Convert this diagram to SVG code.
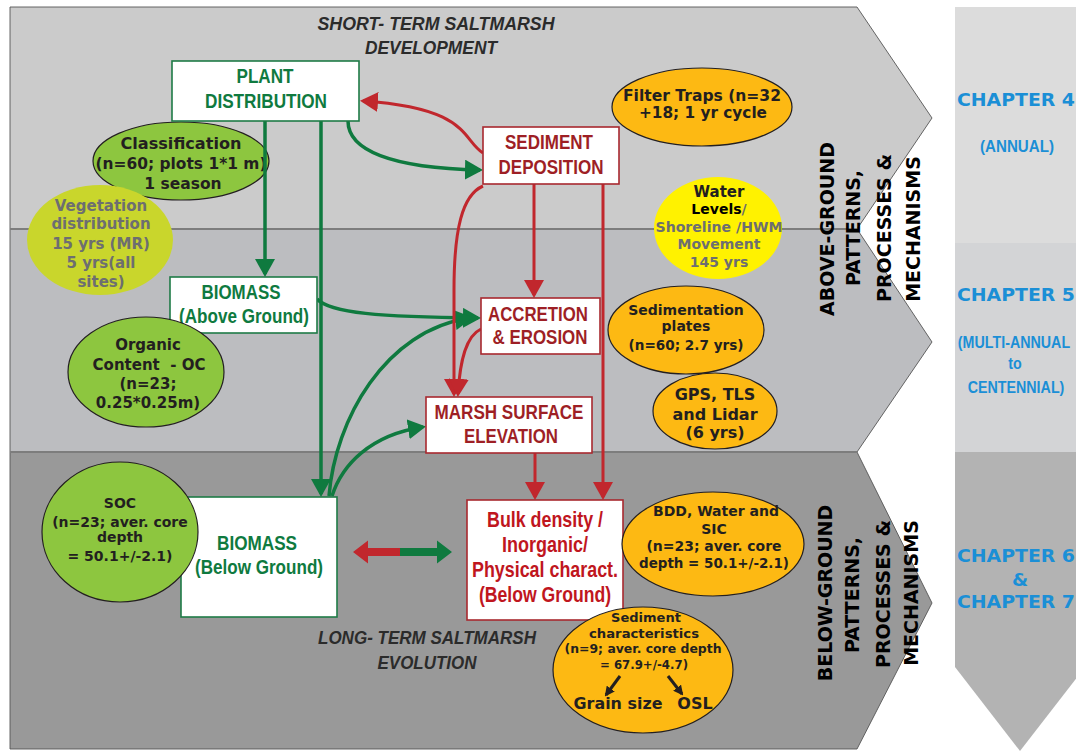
<svg xmlns="http://www.w3.org/2000/svg" width="1076" height="751" viewBox="0 0 1076 751">
<style>
.edge{fill:none;stroke:#555;stroke-width:0.9}
.sep{stroke:#7d7d7d;stroke-width:2}
.gbox{fill:#fff;stroke:#1e7b46;stroke-width:1.6}
.rbox{fill:#fff;stroke:#a8292f;stroke-width:1.6}
.gt{font-family:"Liberation Sans",Arial,sans-serif;font-weight:bold;font-size:21px;fill:#0f7a3f;text-anchor:middle}
.rt{font-family:"Liberation Sans",Arial,sans-serif;font-weight:bold;font-size:21px;fill:#9e1f25;text-anchor:middle}
.bt{font-family:"Liberation Sans",Arial,sans-serif;font-weight:bold;font-size:22px;fill:#c0161e;text-anchor:middle}
.el{stroke:#231f20;stroke-width:1.2}
.et{font-family:"DejaVu Sans",sans-serif;font-weight:bold;fill:#231f20;text-anchor:middle}
.gray{fill:#6d6e71}
.gl{fill:none;stroke:#0f7a3f;stroke-width:3.5}
.rl{fill:none;stroke:#c1272d;stroke-width:3}
.side{font-family:"DejaVu Sans",sans-serif;font-weight:bold;font-size:19px;fill:#000;text-anchor:middle}
.ch{font-family:"DejaVu Sans",sans-serif;font-weight:bold;font-size:18.5px;fill:#1b8fd6}
.chn{font-family:"Liberation Sans",Arial,sans-serif;font-weight:bold;font-size:17px;fill:#1b8fd6;text-anchor:middle}
.cap{font-family:"Liberation Sans",Arial,sans-serif;font-style:italic;font-weight:bold;font-size:18px;fill:#2b2b2b;text-anchor:middle}
</style>
<defs>
<marker id="mg" viewBox="0 0 18 20" refX="15" refY="10" markerWidth="18" markerHeight="20" markerUnits="userSpaceOnUse" orient="auto"><path d="M0,0 L18,10 L0,20 Z" fill="#0f7a3f"/></marker>
<marker id="mr" viewBox="0 0 18 20" refX="15" refY="10" markerWidth="18" markerHeight="20" markerUnits="userSpaceOnUse" orient="auto"><path d="M0,0 L18,10 L0,20 Z" fill="#c1272d"/></marker>
<marker id="mb" viewBox="0 0 10 10" refX="8" refY="5" markerWidth="10" markerHeight="10" markerUnits="userSpaceOnUse" orient="auto"><path d="M0,0 L10,5 L0,10 Z" fill="#231f20"/></marker>
</defs>
<rect width="1076" height="751" fill="#fff"/>
<g id="background">
<path d="M10,7 L857,7 L932,118 L857,229 L10,229 Z" fill="#cbcbcb"/>
<path d="M10,229 L857,229 L932,342 L857,452 L10,452 Z" fill="#bcbdc0"/>
<path d="M10,452 L857,452 L932,603 L857,749 L10,749 Z" fill="#999"/>
<path class="edge" d="M10,749 L10,7 L857,7 L932,118 L857,229 L932,342 L857,452 L932,603 L857,749 L10,749"/>
<line class="sep" x1="10" y1="229" x2="857" y2="229"/>
<line class="sep" x1="10" y1="452" x2="857" y2="452"/>
<rect x="955" y="7" width="130" height="236" fill="#dcdcdc"/>
<rect x="955" y="243" width="130" height="209" fill="#d3d4d6"/>
<path d="M955,452 L1085,452 L1085,667 L1020,751 L955,667 Z" fill="#b3b3b3"/>
</g>
<g id="labels">
<text class="cap" x="436" y="30" textLength="237" lengthAdjust="spacingAndGlyphs">SHORT- TERM SALTMARSH</text>
<text class="cap" x="431" y="54" textLength="132" lengthAdjust="spacingAndGlyphs">DEVELOPMENT</text>
<text class="cap" x="427" y="644" textLength="218" lengthAdjust="spacingAndGlyphs">LONG- TERM SALTMARSH</text>
<text class="cap" x="427" y="669" textLength="99" lengthAdjust="spacingAndGlyphs">EVOLUTION</text>
<text class="side" transform="translate(834,229) rotate(-90)">ABOVE-GROUND</text>
<text class="side" transform="translate(860,228) rotate(-90)">PATTERNS,</text>
<text class="side" transform="translate(891,228) rotate(-90)">PROCESSES &amp;</text>
<text class="side" transform="translate(920,229) rotate(-90)">MECHANISMS</text>
<text class="side" transform="translate(832,593) rotate(-90)">BELOW-GROUND</text>
<text class="side" transform="translate(859,595) rotate(-90)">PATTERNS,</text>
<text class="side" transform="translate(890,594) rotate(-90)">PROCESSES &amp;</text>
<text class="side" transform="translate(918,593) rotate(-90)">MECHANISMS</text>
<text class="ch" x="957" y="106" textLength="118" lengthAdjust="spacingAndGlyphs">CHAPTER 4</text>
<text class="chn" transform="translate(1017,152) scale(0.89,1)">(ANNUAL)</text>
<text class="ch" x="957" y="301" textLength="118" lengthAdjust="spacingAndGlyphs">CHAPTER 5</text>
<text class="chn" transform="translate(1014,348) scale(0.84,1)">(MULTI-ANNUAL</text>
<text class="chn" transform="translate(1015,369) scale(0.84,1)">to</text>
<text class="chn" transform="translate(1016,393) scale(0.84,1)">CENTENNIAL)</text>
<text class="ch" x="957" y="562" textLength="118" lengthAdjust="spacingAndGlyphs">CHAPTER 6</text>
<text class="ch" x="1020" y="586" text-anchor="middle">&amp;</text>
<text class="ch" x="957" y="608" textLength="118" lengthAdjust="spacingAndGlyphs">CHAPTER 7</text>
</g>
<g id="classification">
<ellipse class="el" cx="181" cy="161" rx="88" ry="39" fill="#8dc63f"/>
<text class="et" font-size="15.5" x="181" y="149" textLength="121" lengthAdjust="spacingAndGlyphs">Classification</text>
<text class="et" font-size="15.5" x="181" y="169" textLength="171" lengthAdjust="spacingAndGlyphs">(n=60; plots 1*1 m)</text>
<text class="et" font-size="15.5" x="183" y="189">1 season</text>
</g>
<g id="vegetation">
<ellipse cx="100" cy="240" rx="73" ry="55" fill="#c9d62c"/>
<text class="et gray" font-size="15" x="101" y="211">Vegetation</text>
<text class="et gray" font-size="15" x="101" y="229">distribution</text>
<text class="et gray" font-size="15" x="101" y="249">15 yrs (MR)</text>
<text class="et gray" font-size="15" x="101" y="268">5 yrs(all</text>
<text class="et gray" font-size="15" x="101" y="287">sites)</text>
</g>
<g id="filter-traps">
<ellipse class="el" cx="702" cy="107" rx="90" ry="39" fill="#fdb913"/>
<text class="et" font-size="15.5" x="702" y="101" textLength="158" lengthAdjust="spacingAndGlyphs">Filter Traps (n=32</text>
<text class="et" font-size="15.5" x="703" y="118" textLength="128" lengthAdjust="spacingAndGlyphs">+18; 1 yr cycle</text>
</g>
<g id="water-levels">
<ellipse cx="718" cy="228" rx="64" ry="51" fill="#fff200"/>
<text class="et" font-size="15" x="719" y="197" fill="#000">Water</text>
<text class="et" font-size="14" x="719" y="214"><tspan fill="#000">Levels</tspan><tspan class="gray">/</tspan></text>
<text class="et gray" font-size="14" x="719" y="232" textLength="127" lengthAdjust="spacingAndGlyphs">Shoreline /HWM</text>
<text class="et gray" font-size="14" x="719" y="249">Movement</text>
<text class="et gray" font-size="14" x="719" y="267">145 yrs</text>
</g>
<g id="sedimentation-plates">
<ellipse class="el" cx="686" cy="330" rx="78" ry="44" fill="#fdb913"/>
<text class="et" font-size="14" x="686" y="315">Sedimentation</text>
<text class="et" font-size="14" x="686" y="331">plates</text>
<text class="et" font-size="14" x="686" y="350" textLength="115" lengthAdjust="spacingAndGlyphs">(n=60; 2.7 yrs)</text>
</g>
<g id="gps-tls-lidar">
<ellipse class="el" cx="715" cy="411" rx="62" ry="38" fill="#fdb913"/>
<text class="et" font-size="16" x="715" y="400">GPS, TLS</text>
<text class="et" font-size="16" x="715" y="420">and Lidar</text>
<text class="et" font-size="16" x="715" y="438">(6 yrs)</text>
</g>
<g id="connectors">
<path class="gl" d="M265,121 V274" marker-end="url(#mg)"/>
<path class="gl" d="M321,121 V494" marker-end="url(#mg)"/>
<path class="gl" d="M348,121 C348,150 390,168 480,170" marker-end="url(#mg)"/>
<path class="gl" d="M317,299 C330,313 380,317 478,318" marker-end="url(#mg)"/>
<path class="gl" d="M329,496 C335,420 385,330 470,318" marker-end="url(#mg)"/>
<path class="gl" d="M332,496 C342,465 370,435 423,427" marker-end="url(#mg)"/>
<path class="rl" d="M483,153 C462,140 470,108 363,101" marker-end="url(#mr)"/>
<path class="rl" d="M483,186 C462,195 454,230 454,290 L454,394" marker-end="url(#mr)"/>
<path class="rl" d="M534,184 V295" marker-end="url(#mr)"/>
<path class="rl" d="M603,184 V497" marker-end="url(#mr)"/>
<path class="rl" d="M481,329 C466,336 460,360 458,394" marker-end="url(#mr)"/>
<path class="rl" d="M535,453 V497" marker-end="url(#mr)"/>
<path d="M353,552 L368,540.5 L368,548 L401,548 L401,556 L368,556 L368,563.5 Z" fill="#c1272d"/>
<path d="M452,552 L437,540.5 L437,548 L400,548 L400,556 L437,556 L437,563.5 Z" fill="#0f7a3f"/>
</g>
<g id="plant-distribution">
<rect class="gbox" x="172" y="61" width="187" height="60"/>
<text class="gt" x="265" y="83" textLength="57" lengthAdjust="spacingAndGlyphs">PLANT</text>
<text class="gt" x="266" y="108" textLength="122" lengthAdjust="spacingAndGlyphs">DISTRIBUTION</text>
</g>
<g id="sediment-deposition">
<rect class="rbox" x="483" y="127" width="136" height="57"/>
<text class="rt" x="549" y="149" textLength="88" lengthAdjust="spacingAndGlyphs">SEDIMENT</text>
<text class="rt" x="551" y="174" textLength="105" lengthAdjust="spacingAndGlyphs">DEPOSITION</text>
</g>
<g id="biomass-above">
<rect class="gbox" x="170" y="277" width="147" height="56"/>
<text class="gt" x="241" y="299" textLength="79" lengthAdjust="spacingAndGlyphs">BIOMASS</text>
<text class="gt" x="244" y="323" textLength="130" lengthAdjust="spacingAndGlyphs">(Above Ground)</text>
</g>
<g id="accretion-erosion">
<rect class="rbox" x="481" y="298" width="119" height="56"/>
<text class="rt" x="538" y="321" textLength="100" lengthAdjust="spacingAndGlyphs">ACCRETION</text>
<text class="rt" x="540" y="344" textLength="95" lengthAdjust="spacingAndGlyphs">&amp; EROSION</text>
</g>
<g id="marsh-surface-elevation">
<rect class="rbox" x="426" y="397" width="166" height="56"/>
<text class="rt" x="509" y="419" textLength="149" lengthAdjust="spacingAndGlyphs">MARSH SURFACE</text>
<text class="rt" x="511" y="443" textLength="94" lengthAdjust="spacingAndGlyphs">ELEVATION</text>
</g>
<g id="biomass-below">
<rect class="gbox" x="181" y="497" width="156" height="120"/>
<text class="gt" x="257" y="550" textLength="80" lengthAdjust="spacingAndGlyphs">BIOMASS</text>
<text class="gt" x="259" y="574" textLength="128" lengthAdjust="spacingAndGlyphs">(Below Ground)</text>
</g>
<g id="bulk-density">
<rect class="rbox" x="467" y="500" width="156" height="120"/>
<text class="bt" x="545" y="527" textLength="116" lengthAdjust="spacingAndGlyphs">Bulk density /</text>
<text class="bt" x="545" y="552" textLength="86" lengthAdjust="spacingAndGlyphs">Inorganic/</text>
<text class="bt" x="545" y="577" textLength="146" lengthAdjust="spacingAndGlyphs">Physical charact.</text>
<text class="bt" x="545" y="602" textLength="132" lengthAdjust="spacingAndGlyphs">(Below Ground)</text>
</g>
<g id="organic-content">
<ellipse class="el" cx="146" cy="372" rx="78" ry="55" fill="#8dc63f"/>
<text class="et" font-size="15" x="148" y="350">Organic</text>
<text class="et" font-size="15" x="149" y="370" style="white-space:pre">Content  - OC</text>
<text class="et" font-size="15" x="148" y="389">(n=23;</text>
<text class="et" font-size="15" x="148" y="408">0.25*0.25m)</text>
</g>
<g id="soc">
<ellipse class="el" cx="120" cy="532" rx="78" ry="70" fill="#8dc63f"/>
<text class="et" font-size="14" x="120" y="508">SOC</text>
<text class="et" font-size="14" x="120" y="527">(n=23; aver. core</text>
<text class="et" font-size="14" x="120" y="542">depth</text>
<text class="et" font-size="14" x="120" y="561">= 50.1+/-2.1)</text>
</g>
<g id="bdd-water-sic">
<ellipse class="el" cx="713" cy="544" rx="91" ry="52" fill="#fdb913"/>
<text class="et" font-size="14" x="716" y="516">BDD, Water and</text>
<text class="et" font-size="14" x="714" y="534">SIC</text>
<text class="et" font-size="14" x="714" y="551" textLength="135" lengthAdjust="spacingAndGlyphs">(n=23; aver. core</text>
<text class="et" font-size="14" x="714" y="568" textLength="150" lengthAdjust="spacingAndGlyphs">depth = 50.1+/-2.1)</text>
</g>
<g id="sediment-characteristics">
<ellipse class="el" cx="643" cy="670" rx="90" ry="63" fill="#fdb913"/>
<text class="et" font-size="13" x="646" y="622">Sediment</text>
<text class="et" font-size="13" x="644" y="638" textLength="110" lengthAdjust="spacingAndGlyphs">characteristics</text>
<text class="et" font-size="12.5" x="643" y="653" textLength="157" lengthAdjust="spacingAndGlyphs">(n=9; aver. core depth</text>
<text class="et" font-size="13" x="644" y="669" textLength="88" lengthAdjust="spacingAndGlyphs">= 67.9+/-4.7)</text>
<path d="M620,676 L606,695" stroke="#231f20" stroke-width="3" marker-end="url(#mb)"/>
<path d="M668,676 L682,694" stroke="#231f20" stroke-width="3" marker-end="url(#mb)"/>
<text class="et" font-size="16" x="618" y="709" textLength="89" lengthAdjust="spacingAndGlyphs">Grain size</text>
<text class="et" font-size="16" x="695" y="709">OSL</text>
</g>
</svg>
